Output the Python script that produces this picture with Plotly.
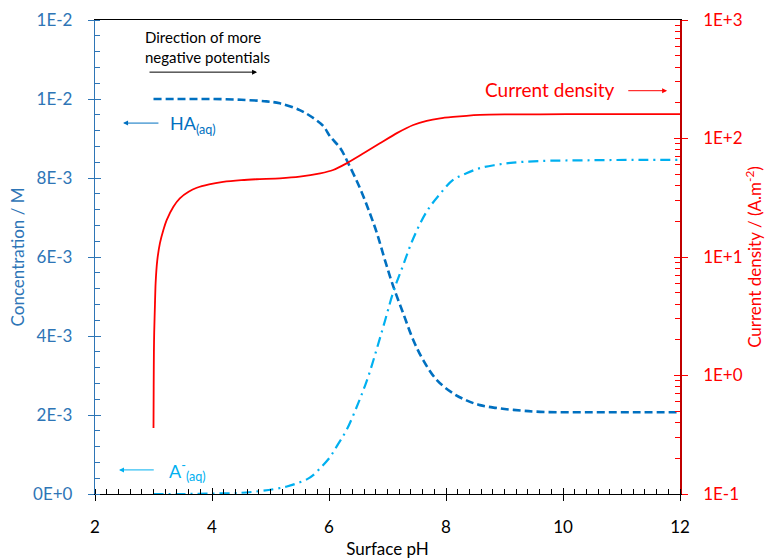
import numpy as np
import plotly.graph_objects as go

# ---------------- data ----------------
ph_ha = [3.0, 3.5, 4.0, 4.5, 4.93, 5.16, 5.5, 5.7, 5.9, 6.02, 6.19, 6.33, 6.53, 6.7,
         6.82, 6.96, 7.10, 7.27, 7.44, 7.61, 7.84, 8.12, 8.35, 8.58, 8.85, 9.15, 9.61,
         10.5, 11.3, 12.0]
conc_ha = [0.0100, 0.0100, 0.0100, 0.00998, 0.00994, 0.00989, 0.00972, 0.00955, 0.00932,
           0.00905, 0.00876, 0.00837, 0.00774, 0.0071, 0.0066, 0.0059, 0.00525,
           0.00457, 0.0039, 0.00339, 0.00289, 0.00255, 0.00237, 0.00225, 0.00218, 0.00213,
           0.00208, 0.00207, 0.00207, 0.00207]

ph_a = [3.0, 3.5, 4.0, 4.48, 4.8, 5.05, 5.28, 5.45, 5.62, 5.73, 5.88, 6.02, 6.15, 6.30,
        6.50, 6.67, 6.82, 6.96, 7.10, 7.27, 7.44, 7.67, 7.9, 8.12, 8.35, 8.58, 8.85, 9.15,
        9.61, 10.5, 11.3, 12.0]
conc_a = [0.0, 0.0, 0.00001, 0.00003, 0.00007, 0.00012, 0.00019, 0.00027, 0.00037, 0.00048,
          0.0007, 0.00094, 0.00125, 0.00162, 0.0023, 0.00297, 0.00369, 0.0044, 0.00512,
          0.0058, 0.00647, 0.00715, 0.0076, 0.00795, 0.00812, 0.00825, 0.00833, 0.00839,
          0.00843, 0.00845, 0.00846, 0.00846]

ph_cd = [3.0, 3.003, 3.007, 3.012, 3.025, 3.036, 3.065, 3.11, 3.17, 3.225, 3.34, 3.45, 3.6,
         3.74, 3.95, 4.19, 4.5, 4.76, 5.16, 5.5, 5.85, 6.07, 6.3, 6.59, 6.87, 7.16, 7.44,
         7.67, 7.9, 8.12, 8.35, 8.58, 9.0, 9.61, 10.5, 11.3, 12.0]
cd = [0.36, 0.8, 1.6, 2.3, 4.0, 6.0, 9.4, 13.1, 17.0, 20.5, 26.6, 31.3, 35.5, 38.4, 41.0,
      43.0, 44.5, 45.3, 46.1, 47.6, 50.8, 54.2, 61.7, 75.0, 91.0, 111.0, 130.0, 141.0,
      148.0, 152.0, 155.5, 158.0, 159.5, 160.0, 160.5, 160.5, 160.5]

x_ticks = [2, 4, 6, 8, 10, 12]
y_ticks = [0, 0.002, 0.004, 0.006, 0.008, 0.010, 0.012]
y_ticktext = ["0E+0", "2E-3", "4E-3", "6E-3", "8E-3", "1E-2", "1E-2"]
y2_ticks = [0.1, 1, 10, 100, 1000]
y2_ticktext = ["1E-1", "1E+0", "1E+1", "1E+2", "1E+3"]

# ---------------- styles ----------------
FONT = "Lato"
C_HA = "#0070C0"
C_A = "#00B0F0"
C_CD = "#FF0000"
C_AX = "#2E75B6"

y2_minor = [m * 10.0 ** e for e in range(-1, 3) for m in range(2, 10)]

fig = go.Figure()
fig.add_trace(go.Scatter(x=ph_cd, y=cd, mode="lines", yaxis="y2", line_shape="spline",
                         line=dict(color=C_CD, width=1.8, smoothing=0.6), showlegend=False))
fig.add_trace(go.Scatter(x=ph_ha, y=conc_ha, mode="lines", line_shape="spline",
                         line=dict(color=C_HA, width=2.6, dash="8px,4px"), showlegend=False))
fig.add_trace(go.Scatter(x=ph_a, y=conc_a, mode="lines", line_shape="spline",
                         line=dict(color=C_A, width=2.2, dash="10px,5px,2px,5px"),
                         showlegend=False))

fig.update_layout(
    width=765, height=560,
    margin=dict(l=95, r=85, t=20, b=66, autoexpand=False),
    paper_bgcolor="white", plot_bgcolor="white",
    font=dict(family=FONT, size=16),
    xaxis=dict(range=[2, 12], tickmode="array", tickvals=x_ticks, automargin=False,
               ticks="outside", ticklen=6, tickcolor="black", tickwidth=1,
               minor=dict(dtick=0.2, ticks="inside", ticklen=5, tickcolor="black", showgrid=False),
               showline=True, linecolor="black", linewidth=1, mirror=True,
               showgrid=False, zeroline=False,
               tickfont=dict(color="black", size=17, family=FONT), ticklabelstandoff=12,
               title=dict(text="Surface pH", font=dict(color="black", size=17, family=FONT), standoff=6)),
    xaxis2=dict(range=[2, 12], overlaying="x", anchor="y", side="bottom", automargin=False,
                tickmode="array", tickvals=x_ticks, ticks="inside", ticklen=6,
                tickcolor="black", showticklabels=False, showline=False, showgrid=False,
                zeroline=False),
    yaxis=dict(range=[0, 0.012], tickmode="array", tickvals=y_ticks, ticktext=y_ticktext,
               ticks="outside", ticklen=6, tickcolor=C_AX, automargin=False,
               minor=dict(tickmode="array", tickvals=list(np.arange(0, 0.0121, 0.0004)),
                          ticks="inside", ticklen=5, tickcolor=C_AX, showgrid=False),
               showline=True, linecolor=C_AX, linewidth=1.3,
               showgrid=False, zeroline=False,
               tickfont=dict(color=C_AX, size=17, family=FONT), ticklabelstandoff=12,
               title=dict(text="Concentration / M", font=dict(color=C_AX, size=17, family=FONT), standoff=4)),
    yaxis3=dict(range=[0, 0.012], overlaying="y", anchor="x", side="left", automargin=False,
                tickmode="array", tickvals=y_ticks, ticks="inside", ticklen=6,
                tickcolor=C_AX, showticklabels=False, showline=False, showgrid=False,
                zeroline=False),
    yaxis2=dict(type="log", range=[-1, 3], overlaying="y", anchor="x", side="right",
                tickmode="array", tickvals=y2_ticks, ticktext=y2_ticktext, automargin=False,
                ticks="outside", ticklen=6, tickcolor=C_CD,
                minor=dict(tickmode="array", tickvals=y2_minor, ticks="inside", ticklen=5,
                           tickcolor=C_CD, showgrid=False),
                showline=True, linecolor="#C00000", linewidth=1.5,
                showgrid=False, zeroline=False,
                tickfont=dict(color=C_CD, size=17, family=FONT), ticklabelstandoff=12,
                title=dict(text="Current density / (A.m<sup>-2</sup>)",
                           font=dict(color=C_CD, size=17, family=FONT), standoff=6)),
    yaxis4=dict(type="log", range=[-1, 3], overlaying="y", anchor="x", side="right",
                tickmode="array", tickvals=y2_ticks, ticks="inside", ticklen=6, automargin=False,
                tickcolor=C_CD, showticklabels=False, showline=False, showgrid=False,
                zeroline=False),
)

# dummy empty traces so the overlay tick axes are drawn
fig.add_trace(go.Scatter(x=[], y=[], xaxis="x2", yaxis="y", showlegend=False))
fig.add_trace(go.Scatter(x=[], y=[], yaxis="y3", showlegend=False))
fig.add_trace(go.Scatter(x=[], y=[], yaxis="y4", showlegend=False))

ann = []
# direction text + arrow
ann.append(dict(x=2.82, y=0.01158, xref="x", yref="y", text="Direction of more",
                showarrow=False, xanchor="left", yanchor="middle",
                font=dict(color="black", size=15, family=FONT)))
ann.append(dict(x=2.82, y=0.01107, xref="x", yref="y", text="negative potentials",
                showarrow=False, xanchor="left", yanchor="middle",
                font=dict(color="black", size=15, family=FONT)))
ann.append(dict(x=4.77, y=0.01068, xref="x", yref="y", ax=2.906, ay=0.01068,
                axref="x", ayref="y", text="", showarrow=True, arrowhead=2,
                arrowsize=1, arrowwidth=1, arrowcolor="black", standoff=0, startstandoff=0))
# HA label
ann.append(dict(x=3.25, y=0.00935, xref="x", yref="y", text="HA<sub>(aq)</sub>",
                showarrow=False, xanchor="left", yanchor="middle",
                font=dict(color=C_HA, size=18, family=FONT)))
ann.append(dict(x=2.48, y=0.00939, xref="x", yref="y", ax=3.11, ay=0.00939,
                axref="x", ayref="y", text="", showarrow=True, arrowhead=2,
                arrowsize=1, arrowwidth=1, arrowcolor=C_HA, standoff=0, startstandoff=0))
# A- label
ann.append(dict(x=3.23, y=0.00058, xref="x", yref="y", text="A<sup>-</sup><sub>(aq)</sub>",
                showarrow=False, xanchor="left", yanchor="middle",
                font=dict(color=C_A, size=18, family=FONT)))
ann.append(dict(x=2.41, y=0.00061, xref="x", yref="y", ax=3.03, ay=0.00061,
                axref="x", ayref="y", text="", showarrow=True, arrowhead=2,
                arrowsize=1, arrowwidth=1, arrowcolor=C_A, standoff=0, startstandoff=0))
# current density label
ann.append(dict(x=10.92, y=0.01023, xref="x", yref="y", text="Current density",
                showarrow=False, xanchor="right", yanchor="middle",
                font=dict(color=C_CD, size=19, family=FONT)))
ann.append(dict(x=11.78, y=0.01021, xref="x", yref="y", ax=11.09, ay=0.01021,
                axref="x", ayref="y", text="", showarrow=True, arrowhead=2,
                arrowsize=1, arrowwidth=1, arrowcolor=C_CD, standoff=0, startstandoff=0))
fig.update_layout(annotations=ann)

fig.write_html("out.html")
